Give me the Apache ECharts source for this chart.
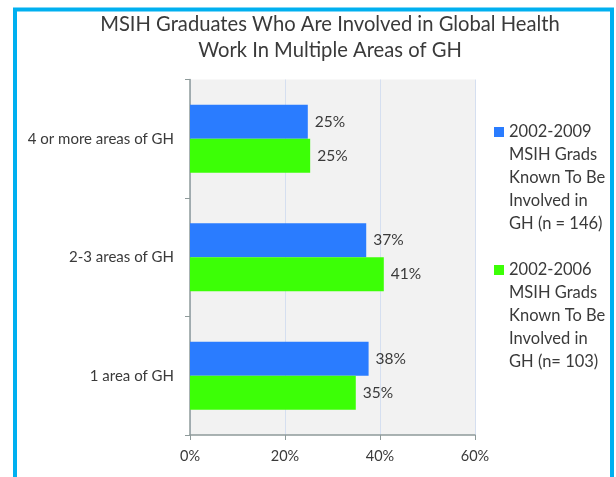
<!DOCTYPE html>
<html>
<head>
<meta charset="utf-8">
<script src="https://cdn.jsdelivr.net/npm/echarts@6/dist/echarts.min.js"></script>
<style>
  html, body { margin: 0; padding: 0; background: #fff; }
  #main { width: 616px; height: 477px; }
</style>
</head>
<body>
<div id="main"></div>
<script>
var dom = document.getElementById("main");
var myChart = echarts.init(dom);

var categories = ['4 or more areas of GH', '2-3 areas of GH', '1 area of GH'];
var seriesNames = [
    '2002-2009\nMSIH Grads\nKnown To Be\nInvolved in\nGH (n = 146)',
    '2002-2006\nMSIH Grads\nKnown To Be\nInvolved in\nGH (n= 103)'
];
var grads2009 = [24.8, 37.1, 37.6];
var grads2006 = [25.3, 40.8, 34.9];
var xTicks = [0, 20, 40, 60];

var textColor = '#3a3a3a';
var font = 'Lato';

// legend text sits below the icon's first line: pad the block on top
function legendFor(name, top) {
    return {
        data: [name],
        orient: 'vertical',
        left: 494,
        top: top,
        padding: 0,
        icon: 'rect',
        itemWidth: 10,
        itemHeight: 10,
        selectedMode: false,
        formatter: function (n) { return '{pad| }\n' + n; },
        textStyle: {
            fontFamily: font,
            fontSize: 16.5,
            lineHeight: 23,
            color: textColor,
            rich: {
                pad: { height: 92, lineHeight: 92, fontSize: 1 }
            }
        }
    };
}

option = {
    animation: false,
    textStyle: { fontFamily: font },
    title: {
        text: 'MSIH Graduates Who Are Involved in Global Health\nWork In Multiple Areas of GH',
        left: 330,
        top: 11,
        padding: 0,
        textAlign: 'center',
        textStyle: {
            fontFamily: font,
            fontSize: 20.2,
            fontWeight: 'normal',
            lineHeight: 26,
            color: textColor
        }
    },
    graphic: [{
        type: 'rect',
        shape: { x: 15, y: 9.5, width: 597, height: 520 },
        style: { fill: 'none', stroke: '#00b0f0', lineWidth: 4 },
        silent: true
    }],
    legend: [
        legendFor(seriesNames[0], 28.5),
        legendFor(seriesNames[1], 166.5)
    ],
    grid: {
        left: 190,
        right: 141,
        top: 79.5,
        bottom: 42,
        show: true,
        backgroundColor: '#f2f2f2',
        borderWidth: 0
    },
    xAxis: {
        type: 'value',
        min: xTicks[0],
        max: xTicks[xTicks.length - 1],
        interval: 20,
        axisLine: { show: true, lineStyle: { color: '#8e9a9a', width: 1.5 } },
        axisTick: { show: true, length: 5, lineStyle: { color: '#8e9a9a' } },
        axisLabel: {
            formatter: '{value}%',
            fontFamily: font,
            fontSize: 14.5,
            color: textColor,
            margin: 14
        },
        splitLine: { show: true, lineStyle: { color: '#d5dff0', width: 1 } }
    },
    yAxis: {
        type: 'category',
        data: categories,
        inverse: true,
        axisLine: { show: true, lineStyle: { color: '#8e9a9a', width: 1.5 } },
        axisTick: { show: true, length: 5, lineStyle: { color: '#8e9a9a' } },
        axisLabel: {
            fontFamily: font,
            fontSize: 15,
            color: textColor,
            margin: 16
        },
        splitLine: { show: false }
    },
    series: [{
        type: 'bar',
        name: seriesNames[0],
        data: grads2009,
        barWidth: 34,
        barGap: '0%',
        itemStyle: { color: '#2a7cff' },
        label: {
            show: true,
            position: 'right',
            distance: 7,
            fontFamily: font,
            fontSize: 15.5,
            color: textColor,
            formatter: function (p) { return Math.round(p.value) + '%'; }
        }
    }, {
        type: 'bar',
        name: seriesNames[1],
        data: grads2006,
        barWidth: 34,
        barGap: '0%',
        itemStyle: { color: '#3cff06' },
        label: {
            show: true,
            position: 'right',
            distance: 7,
            fontFamily: font,
            fontSize: 15.5,
            color: textColor,
            formatter: function (p) { return Math.round(p.value) + '%'; }
        }
    }]
};

if (option && typeof option === "object") {
    myChart.setOption(option, true);
}
</script>
</body>
</html>
